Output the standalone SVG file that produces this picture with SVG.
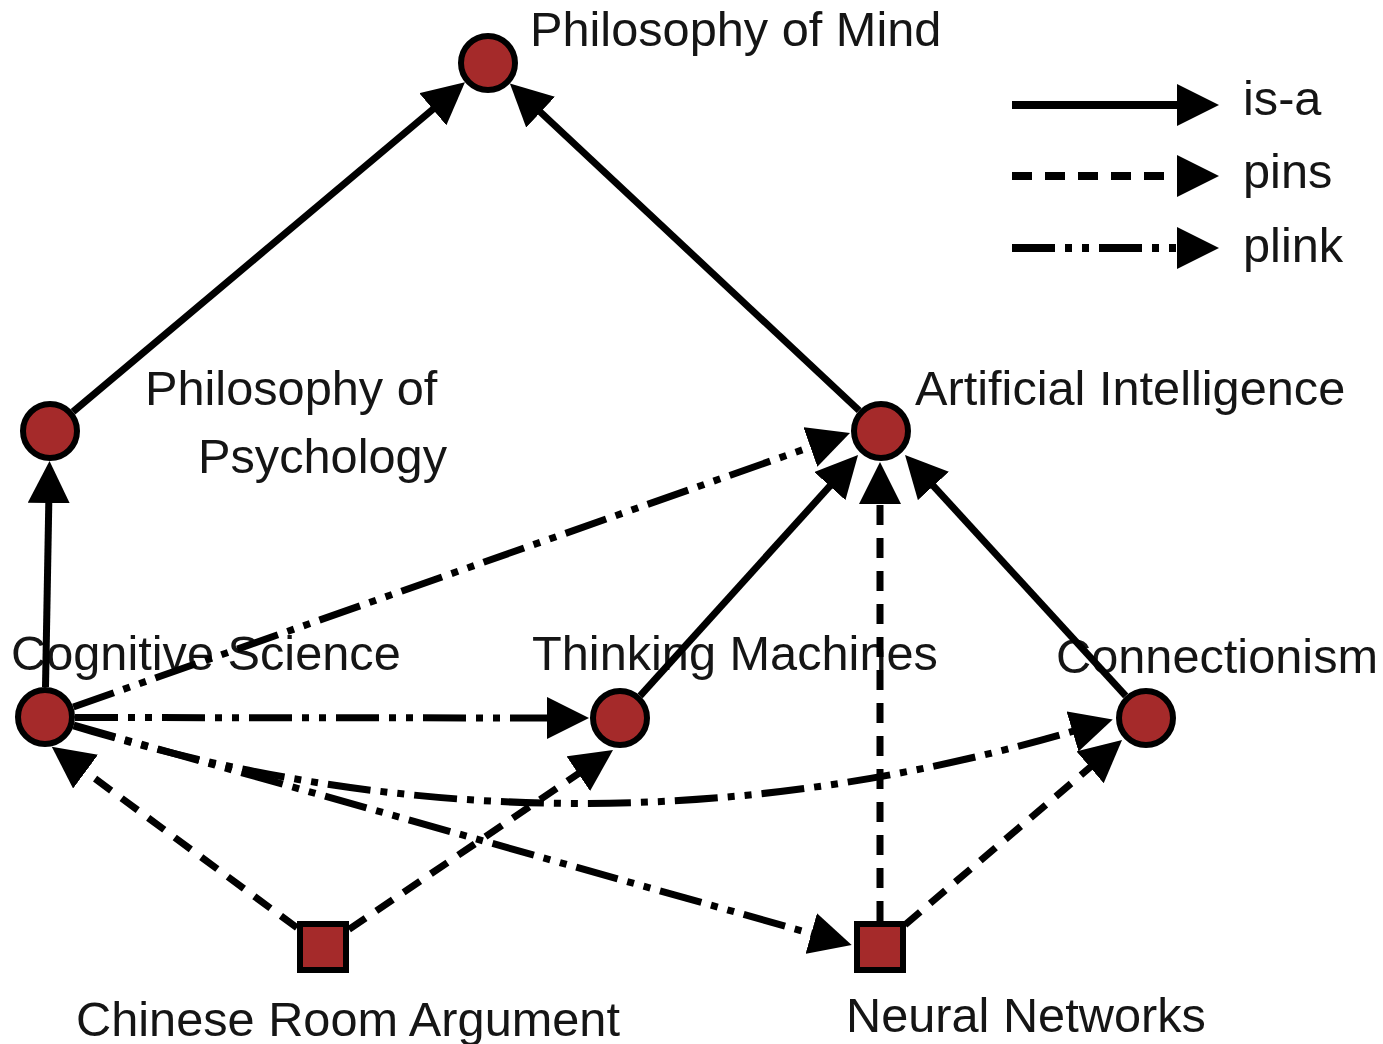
<svg xmlns="http://www.w3.org/2000/svg" width="1383" height="1044" viewBox="0 0 1383 1044">
<style>
.lbl{font-family:"Liberation Sans",Arial,Helvetica,sans-serif;font-size:48.7px;fill:#151515}
.node{fill:#A52A2A;stroke:#000;stroke-width:6}
.e{fill:none;stroke:#000;stroke-width:7;marker-end:url(#ah)}
.isa{}
.pins{stroke-dasharray:20 13}
.plink{stroke-dasharray:43 10 7 10 7 10}
.leg{stroke-width:8}
</style>
<defs>
<marker id="ah" markerUnits="userSpaceOnUse" markerWidth="42" markerHeight="42" viewBox="0 0 42 42" refX="12" refY="21" orient="auto">
<path d="M0,0 L42,21 L0,42 z" fill="#000"/>
</marker>
</defs>
<rect width="1383" height="1044" fill="#fff"/>

<g id="nodes">
<g id="node-philosophy-of-mind">
<circle class="node" cx="488" cy="63" r="27"/>
<text class="lbl" x="530" y="46">Philosophy of Mind</text>
</g>
<g id="node-philosophy-of-psychology">
<circle class="node" cx="50" cy="431" r="27"/>
<text class="lbl" x="145" y="405">Philosophy of</text>
<text class="lbl" x="198" y="473">Psychology</text>
</g>
<g id="node-artificial-intelligence">
<circle class="node" cx="881" cy="431" r="27"/>
<text class="lbl" x="915" y="405">Artificial Intelligence</text>
</g>
<g id="node-cognitive-science">
<circle class="node" cx="45" cy="717" r="27"/>
<text class="lbl" x="11" y="670">Cognitive Science</text>
</g>
<g id="node-thinking-machines">
<circle class="node" cx="620" cy="718" r="27"/>
<text class="lbl" x="532" y="670">Thinking Machines</text>
</g>
<g id="node-connectionism">
<circle class="node" cx="1146" cy="718" r="27"/>
<text class="lbl" x="1056" y="673">Connectionism</text>
</g>
<g id="node-chinese-room-argument">
<rect class="node" x="300" y="924" width="46" height="46"/>
<text class="lbl" x="76" y="1036">Chinese Room Argument</text>
</g>
<g id="node-neural-networks">
<rect class="node" x="857" y="924" width="46" height="46"/>
<text class="lbl" x="846" y="1032">Neural Networks</text>
</g>
</g>

<g id="connectors">
<path class="e isa" d="M73,411.7 L442,101.6"/>
<path class="e isa" d="M859.1,410.5 L531.8,104"/>
<path class="e isa" d="M45.5,687 L49,491"/>
<path class="e plink" d="M73.3,707 L821.7,443"/>
<path class="e isa" d="M640.1,695.8 L837.9,477.2"/>
<path class="e pins" d="M880,921 L880,492"/>
<path class="e isa" d="M1125.7,695.9 L925.3,477.1"/>
<path class="e plink" d="M75,717.5 L559,718"/>
<path class="e plink" d="M73.7,725.8 Q575,880 1084,728"/>
<path class="e plink" d="M73.9,725.2 L822.8,936.8"/>
<path class="e pins" d="M297,927.8 L75.9,764.5"/>
<path class="e pins" d="M349,929.4 L588.2,766.9"/>
<path class="e pins" d="M905,924.8 L1099.2,759.5"/>
</g>

<g id="legend">
<path class="e isa leg" d="M1012,105 L1189,105"/>
<path class="e pins leg" d="M1012,176 L1189,176"/>
<path class="e plink leg" d="M1012,248 L1189,248"/>
<text class="lbl" x="1243" y="115">is-a</text>
<text class="lbl" x="1243" y="188">pins</text>
<text class="lbl" x="1243" y="262">plink</text>
</g>
</svg>
